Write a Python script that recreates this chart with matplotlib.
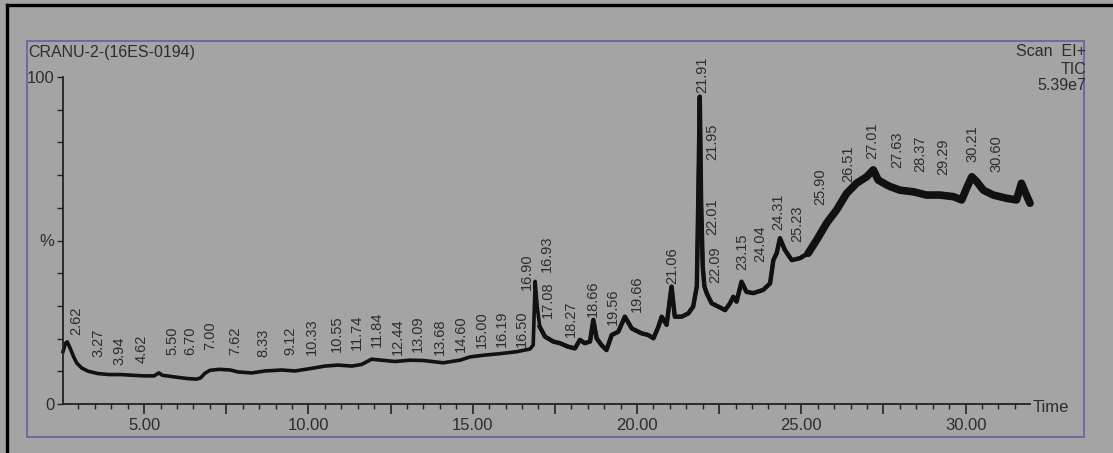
import numpy as np
import matplotlib
matplotlib.use("Agg")
import matplotlib.pyplot as plt
from matplotlib.ticker import MultipleLocator, FuncFormatter
from matplotlib.patches import Rectangle
from matplotlib.lines import Line2D

# TIC trace: retention time (min) and relative abundance (%)
rt = [2.53, 2.60, 2.66, 2.75, 2.85, 2.95, 3.10, 3.30, 3.60, 3.94, 4.30, 4.62,
      5.00, 5.30, 5.45, 5.55, 5.90, 6.30, 6.60, 6.72, 6.85, 7.00, 7.30, 7.62,
      7.86, 8.27, 8.68, 9.19, 9.59, 10.10, 10.50, 10.90, 11.32, 11.62, 11.92,
      12.23, 12.63, 13.09, 13.50, 14.10, 14.61, 14.92, 15.32, 15.83, 16.34,
      16.74, 16.84, 16.90, 16.96, 17.04, 17.20, 17.45, 17.65, 17.91, 18.11,
      18.26, 18.41, 18.57, 18.67, 18.77, 18.92, 19.07, 19.23, 19.43, 19.63,
      19.84, 20.14, 20.34, 20.50, 20.65, 20.75, 20.90, 21.05, 21.15, 21.36,
      21.56, 21.71, 21.82, 21.86, 21.91, 21.95, 22.00, 22.05, 22.12, 22.27,
      22.47, 22.68, 22.83, 22.93, 23.03, 23.18, 23.33, 23.54, 23.84, 24.05,
      24.15, 24.25, 24.35, 24.50, 24.71, 24.96, 25.21, 25.47, 25.77, 26.07,
      26.38, 26.68, 26.99, 27.19, 27.34, 27.60, 27.70, 28.00, 28.41, 28.81,
      29.22, 29.63, 29.88, 30.03, 30.19, 30.34, 30.54, 30.84, 31.25, 31.55,
      31.70, 31.85, 31.96]
abundance = [16.0, 18.5, 19.0, 17.0, 14.5, 12.5, 11.0, 10.0, 9.3, 9.0, 9.0, 8.8,
             8.6, 8.6, 9.5, 8.8, 8.3, 7.8, 7.6, 8.0, 9.4, 10.3, 10.6, 10.4,
             9.8, 9.5, 10.1, 10.4, 10.1, 10.9, 11.6, 11.9, 11.6, 12.1, 13.7,
             13.4, 13.0, 13.4, 13.3, 12.6, 13.4, 14.4, 14.9, 15.4, 16.0,
             16.8, 18.0, 37.5, 30.0, 23.6, 20.6, 19.1, 18.6, 17.5, 17.0,
             19.6, 18.6, 19.1, 25.7, 20.1, 18.0, 16.5, 21.1, 22.1, 26.7,
             23.1, 21.6, 21.1, 20.1, 23.6, 26.7, 24.2, 35.9, 26.7, 26.7,
             27.7, 29.8, 36.0, 60.0, 94.0, 62.0, 42.0, 36.0, 33.9, 30.8,
             29.8, 28.7, 30.8, 32.8, 31.3, 37.4, 34.3, 33.9, 34.9, 36.9,
             44.0, 46.1, 50.7, 47.1, 44.0, 44.6, 46.1, 50.2, 55.3, 59.3,
             64.4, 67.5, 69.5, 71.6, 68.5, 67.0, 66.5, 65.4, 64.9, 63.9,
             63.9, 63.4, 62.4, 66.0, 69.5, 68.0, 65.4, 63.9, 62.9, 62.4,
             67.5, 63.9, 61.4]

# peak annotations
peak_labels = ["2.62", "3.27", "3.94", "4.62", "5.50", "6.70", "7.00", "7.62",
               "8.33", "9.12", "10.33", "10.55", "11.74", "11.84", "12.44",
               "13.09", "13.68", "14.60", "15.00", "16.19", "16.50", "16.90",
               "16.93", "17.08", "18.27", "18.66", "19.56", "19.66", "21.06",
               "21.91", "21.95", "22.01", "22.09", "23.15", "24.04", "24.31",
               "25.23", "25.90", "26.51", "27.01", "27.63", "28.37", "29.29",
               "30.21", "30.60"]
# where each label sits (label centre in min, label bottom in %)
label_x = [2.93, 3.60, 4.26, 4.93, 5.85, 6.40, 7.00, 7.76, 8.62, 9.44, 10.11,
           10.87, 11.48, 12.09, 12.72, 13.33, 14.00, 14.64, 15.28, 15.89, 16.50,
           16.65, 17.26, 17.29, 17.99, 18.66, 19.27, 20.00, 21.06, 22.00, 22.28,
           22.28, 22.37, 23.19, 23.74, 24.29, 24.87, 25.57, 26.42, 27.15, 27.91,
           28.61, 29.31, 30.22, 30.95]
label_y = [21.1, 14.4, 11.9, 12.5, 15.0, 15.0, 16.5, 15.0, 14.4, 15.0, 15.0,
           15.9, 16.5, 17.4, 15.0, 15.9, 15.0, 15.9, 17.1, 17.4, 17.4, 34.9,
           40.4, 26.3, 20.5, 26.6, 24.2, 28.1, 36.8, 95.1, 74.6, 51.7, 37.0,
           41.0, 43.4, 53.2, 49.5, 60.9, 67.9, 74.9, 72.2, 70.9, 70.0, 74.0,
           70.9]

title = "CRANU-2-(16ES-0194)"
scan_info = ["Scan  EI+", "TIC", "5.39e7"]

W, H = 1113, 453
bg = "#a4a4a4"
ink = "#2d2d2d"
plt.rcParams["font.family"] = ["Liberation Sans", "DejaVu Sans"]


def fx(px):
    return px / W


def fy(py):
    return 1 - py / H


fig = plt.figure(figsize=(W / 100, H / 100), dpi=100, facecolor=bg)
ax = fig.add_axes([fx(63), fy(404), fx(1030) - fx(63), fy(77) - fy(404)])
ax.set_facecolor(bg)
ax.patch.set_alpha(0)
ax.set_xlim(2.53, 31.96)
ax.set_ylim(0, 100)

t = np.array(rt)
a = np.array(abundance)
# the trace gets noisier (thicker) towards the end of the run
ax.plot(t, a, color="#111111", lw=2.6, solid_joinstyle="round", clip_on=False)
mid = (t >= 17.0) & (t <= 25.3)
ax.plot(t[mid], a[mid], color="#111111", lw=3.2, solid_joinstyle="round",
        clip_on=False)
late = t >= 25.2
ax.plot(t[late], a[late], color="#111111", lw=5.5, solid_joinstyle="round",
        solid_capstyle="round", clip_on=False)

for lab, x, y in zip(peak_labels, label_x, label_y):
    ax.text(x, y, lab, rotation=90, ha="center", va="bottom", fontsize=10.5,
            color=ink, clip_on=False)

for s in ["top", "right"]:
    ax.spines[s].set_visible(False)
for s in ["left", "bottom"]:
    ax.spines[s].set_color("#222222")
    ax.spines[s].set_linewidth(1.3)

ax.xaxis.set_major_locator(MultipleLocator(2.5))
ax.xaxis.set_minor_locator(MultipleLocator(0.5))
ax.xaxis.set_major_formatter(
    FuncFormatter(lambda v, p: f"{v:.2f}" if abs(v % 5) < 1e-6 else ""))
ax.tick_params(axis="x", which="major", length=7, width=1.2, direction="out",
               labelsize=12, pad=3, colors="#222222", labelcolor=ink)
ax.tick_params(axis="x", which="minor", length=3.5, width=1.0, direction="out",
               colors="#222222")

yt = list(range(0, 101, 10))
ax.set_yticks(yt)
ax.set_yticklabels(["0" if v == 0 else "100" if v == 100 else "%" if v == 50 else ""
                    for v in yt])
ax.tick_params(axis="y", length=4, width=1.0, direction="out", labelsize=12,
               pad=2, colors="#222222", labelcolor=ink)

fig.text(fx(1033), fy(408), "Time", ha="left", va="center", fontsize=12, color=ink)
fig.text(fx(28), fy(52), title, ha="left", va="center", fontsize=11.5, color=ink)
for txt, py in zip(scan_info, [52, 69, 85]):
    fig.text(fx(1086), fy(py), txt, ha="right", va="center", fontsize=11.5, color=ink)

# frames
fig.add_artist(Rectangle((fx(27), fy(437)), fx(1084) - fx(27), fy(41) - fy(437),
                         fill=False, ec="#6b6ba6", lw=1.4,
                         transform=fig.transFigure))
fig.add_artist(Line2D([fx(7), fx(7)], [fy(5), 0], color="black", lw=2.4,
                      transform=fig.transFigure))
fig.add_artist(Line2D([fx(7), 1], [fy(5), fy(5)], color="black", lw=2.4,
                      transform=fig.transFigure))

fig.savefig("out.png", dpi=100, facecolor=bg)
